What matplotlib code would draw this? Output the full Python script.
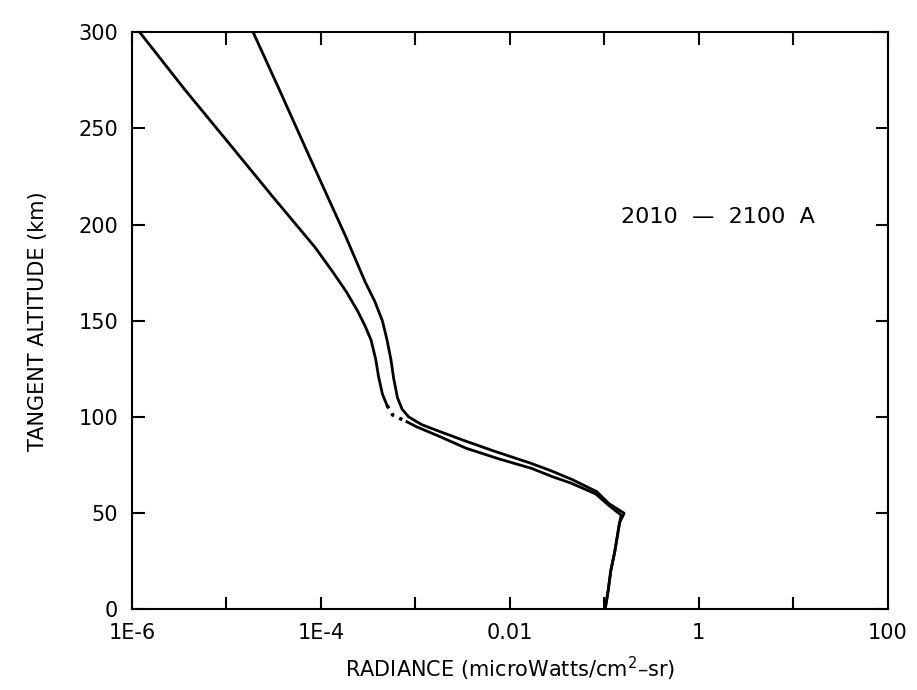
import matplotlib
matplotlib.use("Agg")
import matplotlib.pyplot as plt

# altitude (km) and radiance (microWatts/cm2-sr)
# lower-radiance profile, above the dotted bit
alt_a = [300, 270, 242, 215, 188, 175, 165, 155, 147, 140, 130, 121, 112, 106]
rad_a = [1.20e-6, 3.63e-6, 1.07e-5, 3.02e-5, 8.71e-5, 1.35e-4, 1.86e-4, 2.45e-4,
         2.95e-4, 3.39e-4, 3.80e-4, 4.07e-4, 4.47e-4, 5.01e-4]

alt_a_dots = [106, 101, 97.5]
rad_a_dots = [5.01e-4, 5.75e-4, 8.13e-4]

alt_a_low = [97.5, 95, 89.8, 83.7, 78, 73.3, 69, 65.6, 60, 54, 49, 45, 30, 20, 10, 0]
rad_a_low = [8.13e-4, 1.02e-3, 1.82e-3, 3.47e-3, 7.94e-3, 1.70e-2, 2.82e-2, 4.47e-2,
             8.13e-2, 0.112, 0.151, 0.145, 0.129, 0.117, 0.110, 0.102]

# higher-radiance profile
alt_b = [300, 270, 235, 194, 170, 160, 150, 140, 130, 120, 110, 104, 100, 96, 92.4,
         87.5, 82, 76, 72, 67.5, 61.2, 55, 50, 45, 30, 20, 10, 0]
rad_b = [1.91e-5, 3.63e-5, 7.59e-5, 1.82e-4, 2.95e-4, 3.72e-4, 4.47e-4, 5.01e-4,
         5.50e-4, 5.89e-4, 6.46e-4, 7.24e-4, 8.51e-4, 1.17e-3, 1.82e-3, 3.39e-3,
         7.08e-3, 1.66e-2, 2.75e-2, 4.57e-2, 8.32e-2, 0.112, 0.162, 0.145, 0.129,
         0.117, 0.110, 0.102]

xticks = [1e-6, 1e-5, 1e-4, 1e-3, 1e-2, 1e-1, 1, 10, 100]
xlabels = ["1E-6", "", "1E-4", "", "0.01", "", "1", "", "100"]
yticks = [0, 50, 100, 150, 200, 250, 300]

plt.rcParams["font.family"] = "DejaVu Sans"
plt.rcParams["font.size"] = 15

fig = plt.figure(figsize=(9.17, 6.90), dpi=100)
ax = fig.add_axes([0.144, 0.1167, 0.824, 0.8369])

ax.plot(rad_a, alt_a, "k-", lw=2)
ax.plot(rad_a_dots, alt_a_dots, "k:", lw=2.5)
ax.plot(rad_a_low, alt_a_low, "k-", lw=2)
ax.plot(rad_b, alt_b, "k-", lw=2)

ax.set_xscale("log")
ax.set_xlim(1e-6, 100)
ax.set_ylim(0, 300)
ax.set_xticks(xticks)
ax.set_xticklabels(xlabels)
ax.minorticks_off()
ax.set_yticks(yticks)

ax.tick_params(direction="in", length=9, width=1.5, top=True, right=True, pad=10)
for s in ax.spines.values():
    s.set_linewidth(1.5)

ax.set_xlabel("RADIANCE (microWatts/cm$^{2}$\u2013sr)", labelpad=8)
ax.set_ylabel("TANGENT ALTITUDE (km)", labelpad=22)

ax.text(0.15, 204, "2010  \u2014  2100  A", va="center", ha="left", fontsize=16)

fig.savefig("out.png", dpi=100)
